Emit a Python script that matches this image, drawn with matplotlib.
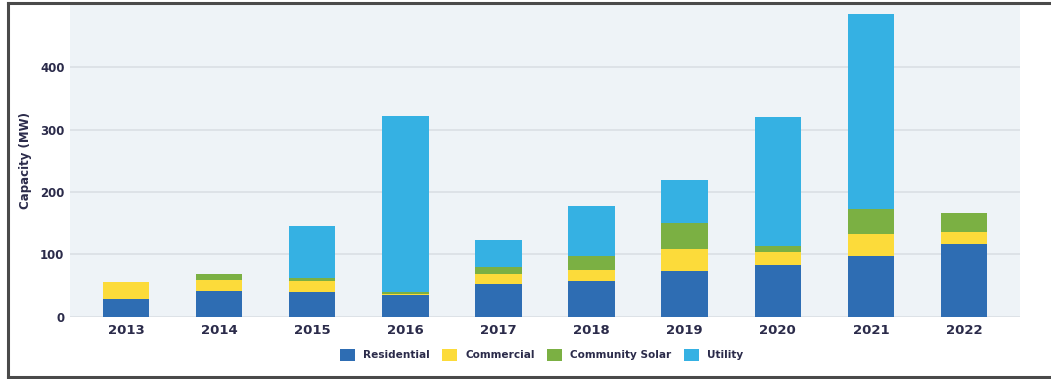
import numpy as np
import matplotlib
matplotlib.use('Agg')
import matplotlib.pyplot as plt
from matplotlib.lines import Line2D

# Installed solar capacity by market segment (MW)
years = ['2013', '2014', '2015', '2016', '2017', '2018', '2019', '2020', '2021', '2022']
residential = [28, 42, 40, 35, 52, 57, 74, 83, 98, 116]
commercial = [28, 17, 17, 2, 17, 18, 35, 20, 35, 20]
community_solar = [0, 9, 5, 3, 10, 23, 41, 11, 40, 30]
utility = [0, 0, 83, 282, 44, 79, 70, 207, 313, 0]

segments = [
    ('Residential', residential, '#2e6db3'),
    ('Commercial', commercial, '#fcdb3a'),
    ('Community Solar', community_solar, '#7bb043'),
    ('Utility', utility, '#35b1e3'),
]

TEXT = '#2b2b4a'
W, H = 1051, 379

fig = plt.figure(figsize=(W / 100, H / 100), dpi=100)
ax = fig.add_axes([70 / W, (H - 316.7) / H, 950 / W, 311.75 / H])
ax.set_facecolor('#eef3f7')

x = np.arange(len(years))
bottom = np.zeros(len(years))
for name, vals, color in segments:
    ax.bar(x, vals, width=0.5, bottom=bottom, color=color, label=name, zorder=3)
    bottom += np.array(vals)

ax.set_xlim(-0.6, 9.6)
ax.set_ylim(0, 500)
ax.set_yticks([0, 100, 200, 300, 400])
ax.set_xticks(x)
ax.set_xticklabels(years)
ax.grid(axis='y', color='#dde2e7', linewidth=1.4, zorder=0)
for s in ax.spines.values():
    s.set_visible(False)
ax.tick_params(axis='both', length=0, colors=TEXT)
ax.tick_params(axis='y', pad=4, labelsize=8.5)
ax.tick_params(axis='x', pad=5, labelsize=9.5)
for lbl in ax.get_xticklabels() + ax.get_yticklabels():
    lbl.set_fontweight('bold')

ax.set_ylabel('Capacity (MW)', fontsize=8.5, fontweight='bold', color=TEXT, labelpad=6)

leg = fig.legend(loc='center', bbox_to_anchor=(541.5 / W, 1 - 355 / H), ncol=4,
                 frameon=False, fontsize=7.6, handlelength=1.45, handleheight=1.45,
                 handletextpad=0.75, columnspacing=1.15)
for t in leg.get_texts():
    t.set_color(TEXT)
    t.set_fontweight('bold')

# frame around the figure
frame = dict(color='#4a4a4a', linewidth=2.2, transform=fig.transFigure)
fig.add_artist(Line2D([7.5 / W, 1.0], [1 - 3 / H, 1 - 3 / H], **frame))
fig.add_artist(Line2D([7.5 / W, 7.5 / W], [1 - 3 / H, 1 - 377 / H], **frame))
fig.add_artist(Line2D([7.5 / W, 1.0], [1 - 377 / H, 1 - 377 / H], **frame))

fig.savefig('out.png', dpi=100)
